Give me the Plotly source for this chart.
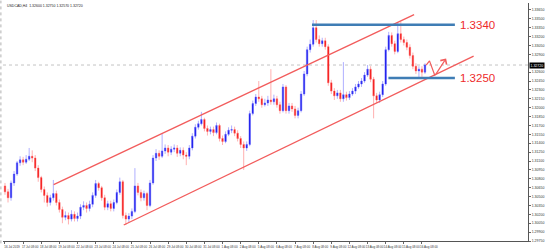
import plotly.graph_objects as go

# ---------------- data (USDCAD, H4) ----------------
bar_index = list(range(140))

open_ = [
    1.3068, 1.3058, 1.3048, 1.3073, 1.3088, 1.3107, 1.3112, 1.3108, 1.3113, 1.3118,
    1.3115, 1.3098, 1.3082, 1.3062, 1.3052, 1.3040, 1.3048, 1.3055, 1.3040, 1.3028,
    1.3015, 1.3018, 1.3012, 1.3020, 1.3013, 1.3017, 1.3032, 1.3035, 1.3030, 1.3037,
    1.3052, 1.3072, 1.3065, 1.3048, 1.3032, 1.3038, 1.3030, 1.3040, 1.3057, 1.3075,
    1.3018, 1.3012, 1.3017, 1.3025, 1.3068, 1.3057, 1.3048, 1.3055, 1.3035, 1.3073,
    1.3115, 1.3123, 1.3118, 1.3127, 1.3132, 1.3125, 1.3130, 1.3132, 1.3123, 1.3128,
    1.3120, 1.3118, 1.3132, 1.3152, 1.3167, 1.3173, 1.3180, 1.3165, 1.3160, 1.3163,
    1.3158, 1.3170, 1.3148, 1.3143, 1.3155, 1.3162, 1.3163, 1.3157, 1.3148, 1.3138,
    1.3132, 1.3138, 1.3190, 1.3207, 1.3218, 1.3215, 1.3205, 1.3208, 1.3213, 1.3210,
    1.3215, 1.3205, 1.3195, 1.3235, 1.3195, 1.3203, 1.3198, 1.3187, 1.3195, 1.3223,
    1.3257, 1.3298, 1.3307, 1.3335, 1.3315, 1.3308, 1.3313, 1.3303, 1.3242, 1.3228,
    1.3220, 1.3225, 1.3215, 1.3222, 1.3217, 1.3223, 1.3228, 1.3235, 1.3240, 1.3245,
    1.3255, 1.3265, 1.3248, 1.3220, 1.3213, 1.3222, 1.3240, 1.3298, 1.3322, 1.3308,
    1.3295, 1.3325, 1.3315, 1.3310, 1.3302, 1.3288, 1.3270, 1.3262, 1.3265, 1.3260,
]
high_ = [
    1.3073, 1.3063, 1.3077, 1.3093, 1.3110, 1.3118, 1.3117, 1.3120, 1.3132, 1.3128,
    1.3120, 1.3103, 1.3085, 1.3067, 1.3057, 1.3053, 1.3078, 1.3060, 1.3045, 1.3033,
    1.3025, 1.3023, 1.3027, 1.3025, 1.3023, 1.3037, 1.3042, 1.3040, 1.3043, 1.3057,
    1.3078, 1.3075, 1.3068, 1.3053, 1.3043, 1.3043, 1.3045, 1.3062, 1.3082, 1.3078,
    1.3023, 1.3022, 1.3030, 1.3098, 1.3073, 1.3062, 1.3060, 1.3058, 1.3078, 1.3120,
    1.3130, 1.3128, 1.3157, 1.3138, 1.3137, 1.3135, 1.3138, 1.3137, 1.3133, 1.3133,
    1.3125, 1.3137, 1.3157, 1.3172, 1.3178, 1.3193, 1.3183, 1.3170, 1.3168, 1.3168,
    1.3175, 1.3173, 1.3153, 1.3160, 1.3167, 1.3170, 1.3168, 1.3162, 1.3152, 1.3143,
    1.3143, 1.3195, 1.3212, 1.3223, 1.3245, 1.3220, 1.3215, 1.3220, 1.3265, 1.3222,
    1.3220, 1.3210, 1.3240, 1.3238, 1.3208, 1.3208, 1.3203, 1.3200, 1.3228, 1.3262,
    1.3303, 1.3315, 1.3348, 1.3348, 1.3322, 1.3318, 1.3318, 1.3307, 1.3247, 1.3233,
    1.3230, 1.3230, 1.3277, 1.3227, 1.3228, 1.3233, 1.3240, 1.3245, 1.3250, 1.3260,
    1.3272, 1.3270, 1.3252, 1.3225, 1.3227, 1.3245, 1.3303, 1.3328, 1.3327, 1.3313,
    1.3343, 1.3345, 1.3320, 1.3315, 1.3307, 1.3293, 1.3275, 1.3270, 1.3270, 1.3275,
]
low_ = [
    1.3053, 1.3040, 1.3043, 1.3068, 1.3085, 1.3102, 1.3103, 1.3105, 1.3110, 1.3108,
    1.3093, 1.3075, 1.3057, 1.3040, 1.3033, 1.3035, 1.3043, 1.3035, 1.3023, 1.3005,
    1.3010, 1.3003, 1.3008, 1.3008, 1.3008, 1.3012, 1.3027, 1.3023, 1.3025, 1.3032,
    1.3048, 1.3060, 1.3043, 1.3027, 1.3027, 1.3025, 1.3025, 1.3037, 1.3053, 1.3013,
    1.3002, 1.3007, 1.3012, 1.3022, 1.3052, 1.3042, 1.3043, 1.3027, 1.3032, 1.3070,
    1.3110, 1.3112, 1.3115, 1.3122, 1.3118, 1.3120, 1.3125, 1.3117, 1.3118, 1.3113,
    1.3103, 1.3113, 1.3128, 1.3148, 1.3163, 1.3170, 1.3160, 1.3153, 1.3155, 1.3152,
    1.3155, 1.3143, 1.3137, 1.3140, 1.3152, 1.3157, 1.3152, 1.3143, 1.3132, 1.3095,
    1.3127, 1.3135, 1.3187, 1.3203, 1.3210, 1.3200, 1.3202, 1.3203, 1.3205, 1.3205,
    1.3200, 1.3190, 1.3192, 1.3190, 1.3190, 1.3193, 1.3182, 1.3182, 1.3192, 1.3220,
    1.3253, 1.3293, 1.3303, 1.3310, 1.3303, 1.3303, 1.3298, 1.3237, 1.3223, 1.3213,
    1.3215, 1.3210, 1.3210, 1.3212, 1.3213, 1.3220, 1.3223, 1.3232, 1.3235, 1.3242,
    1.3252, 1.3243, 1.3182, 1.3208, 1.3208, 1.3218, 1.3237, 1.3295, 1.3303, 1.3290,
    1.3292, 1.3310, 1.3305, 1.3297, 1.3283, 1.3265, 1.3257, 1.3250, 1.3252, 1.3257,
]
close_ = [
    1.3058, 1.3048, 1.3073, 1.3088, 1.3107, 1.3112, 1.3108, 1.3113, 1.3118, 1.3115,
    1.3098, 1.3082, 1.3062, 1.3052, 1.3040, 1.3048, 1.3055, 1.3040, 1.3028, 1.3015,
    1.3018, 1.3012, 1.3020, 1.3013, 1.3017, 1.3032, 1.3035, 1.3030, 1.3037, 1.3052,
    1.3072, 1.3065, 1.3048, 1.3032, 1.3038, 1.3030, 1.3040, 1.3057, 1.3075, 1.3018,
    1.3012, 1.3017, 1.3025, 1.3068, 1.3057, 1.3048, 1.3055, 1.3035, 1.3073, 1.3115,
    1.3123, 1.3118, 1.3127, 1.3132, 1.3125, 1.3130, 1.3132, 1.3123, 1.3128, 1.3120,
    1.3118, 1.3132, 1.3152, 1.3167, 1.3173, 1.3180, 1.3165, 1.3160, 1.3163, 1.3158,
    1.3170, 1.3148, 1.3143, 1.3155, 1.3162, 1.3163, 1.3157, 1.3148, 1.3138, 1.3132,
    1.3138, 1.3190, 1.3207, 1.3218, 1.3215, 1.3205, 1.3208, 1.3213, 1.3210, 1.3215,
    1.3205, 1.3195, 1.3235, 1.3195, 1.3203, 1.3198, 1.3187, 1.3195, 1.3223, 1.3257,
    1.3298, 1.3307, 1.3335, 1.3315, 1.3308, 1.3313, 1.3303, 1.3242, 1.3228, 1.3220,
    1.3225, 1.3215, 1.3222, 1.3217, 1.3223, 1.3228, 1.3235, 1.3240, 1.3245, 1.3255,
    1.3265, 1.3248, 1.3220, 1.3213, 1.3222, 1.3240, 1.3298, 1.3322, 1.3308, 1.3295,
    1.3325, 1.3315, 1.3310, 1.3302, 1.3288, 1.3270, 1.3262, 1.3265, 1.3260, 1.3272,
]

x_label_index = [0, 6, 12, 18, 24, 30, 36, 42, 48, 54, 60, 66, 72, 78, 84, 90,
                 96, 102, 108, 114, 120, 126, 132, 138]
x_labels = ["16 Jul 2019", "17 Jul 08:00", "18 Jul 08:00", "19 Jul 08:00",
            "22 Jul 08:00", "23 Jul 08:00", "24 Jul 08:00", "25 Jul 08:00",
            "26 Jul 08:00", "29 Jul 08:00", "30 Jul 08:00", "31 Jul 08:00",
            "1 Aug 08:00", "2 Aug 08:00", "5 Aug 08:00", "6 Aug 08:00",
            "7 Aug 08:00", "8 Aug 08:00", "9 Aug 08:00", "12 Aug 08:00",
            "13 Aug 08:00", "14 Aug 08:00", "15 Aug 08:00", "16 Aug 08:00"]

# the 1.32750 scale label is hidden behind the bid-price box in the reference
y_tick_labels = ["1.29750", "1.29900", "1.30050", "1.30200", "1.30350", "1.30500",
                 "1.30650", "1.30800", "1.30950", "1.31100", "1.31250", "1.31400",
                 "1.31550", "1.31700", "1.31850", "1.32000", "1.32150", "1.32300",
                 "1.32450", "1.32600", "1.32900", "1.33050", "1.33200",
                 "1.33350", "1.33500", "1.33650"]

# drawn analysis objects (bar index, price)
upper_channel_x = [16.1, 135.4]
upper_channel_y = [1.3070, 1.3357]
lower_channel_x = [39.3, 155.1]
lower_channel_y = [1.3002, 1.3287]
resistance_x = [101.6, 148.9]
resistance_level = 1.3340
support_x = [126.9, 148.9]
support_level = 1.3250
zigzag_x = [139.4, 140.5, 142.3]
zigzag_y = [1.3272, 1.3279, 1.3254]
arrow_tip = (146.0, 1.3283)

FONT = "Liberation Sans"
RED = "#ee2b2b"
LINE_RED = "#f25c5c"
BLUE_LVL = "#3f7db5"

fig = go.Figure()

fig.add_trace(go.Candlestick(
    x=bar_index, open=open_, high=high_, low=low_, close=close_,
    increasing=dict(line=dict(color="rgba(80,80,255,0.45)", width=1), fillcolor="#1a1ae8"),
    decreasing=dict(line=dict(color="rgba(255,80,80,0.45)", width=1), fillcolor="#f21a1a"),
    whiskerwidth=0, showlegend=False, hoverinfo="skip",
))

# channel lines
for xs, ys in [(upper_channel_x, upper_channel_y), (lower_channel_x, lower_channel_y)]:
    fig.add_trace(go.Scatter(x=xs, y=ys, mode="lines",
                             line=dict(color=LINE_RED, width=1.3),
                             showlegend=False, hoverinfo="skip"))

# horizontal levels
fig.add_trace(go.Scatter(x=resistance_x, y=[resistance_level] * 2, mode="lines",
                         line=dict(color=BLUE_LVL, width=2.6), showlegend=False, hoverinfo="skip"))
fig.add_trace(go.Scatter(x=support_x, y=[support_level] * 2, mode="lines",
                         line=dict(color=BLUE_LVL, width=2.6), showlegend=False, hoverinfo="skip"))

# zigzag projection
fig.add_trace(go.Scatter(x=zigzag_x, y=zigzag_y, mode="lines",
                         line=dict(color=LINE_RED, width=1.2), showlegend=False, hoverinfo="skip"))
fig.add_annotation(x=arrow_tip[0], y=arrow_tip[1], ax=zigzag_x[-1], ay=zigzag_y[-1],
                   xref="x", yref="y", axref="x", ayref="y", text="", showarrow=True,
                   arrowhead=4, arrowsize=1.2, arrowwidth=1.2, arrowcolor=LINE_RED)

# level labels
for lvl, txt in [(resistance_level, "1.3340"), (support_level, "1.3250")]:
    fig.add_annotation(x=149.8, y=lvl, xref="x", yref="y", text=txt, showarrow=False,
                       xanchor="left", yanchor="middle",
                       font=dict(family=FONT, size=11.5, color=RED))

last_price = close_[-1]
# bid line
fig.add_shape(type="line", xref="paper", yref="y", x0=0, x1=1, y0=last_price, y1=last_price,
              line=dict(color="#c4c4c4", width=1, dash="dot"), layer="below")
# left border
fig.add_shape(type="line", xref="paper", yref="paper", x0=-0.004, x1=-0.004, y0=-0.01, y1=1.01,
              line=dict(color="#b0b0b0", width=1, dash="dot"))

fig.add_annotation(x=1, y=last_price, xref="paper", yref="y", text=f"{last_price:.5f}",
                   showarrow=False, xanchor="left", yanchor="middle", xshift=1,
                   bgcolor="#000000", borderpad=0.5,
                   font=dict(family=FONT, size=3.5, color="#ffffff"))

fig.add_annotation(x=0.004, y=1.006, xref="paper", yref="paper",
                   text=f"USDCAD,H4  {open_[-1]:.5f} {high_[-1]:.5f} {low_[-1]:.5f} {close_[-1]:.5f}",
                   showarrow=False, xanchor="left", yanchor="top",
                   font=dict(family=FONT, size=3.5, color="#222222"))

fig.update_layout(
    width=547, height=252,
    margin=dict(l=3, r=14, t=3, b=8),
    paper_bgcolor="white", plot_bgcolor="white",
    showlegend=False,
    xaxis=dict(range=[-0.66, 173.1], rangeslider=dict(visible=False),
               tickvals=x_label_index, ticktext=x_labels, tickangle=0,
               tickfont=dict(family=FONT, size=3, color="#333333"),
               ticks="outside", ticklen=2, tickcolor="#666666",
               ticklabelshift=7, ticklabelstandoff=0,
               showline=True, linecolor="#555555", linewidth=1,
               showgrid=False, zeroline=False, fixedrange=True),
    yaxis=dict(side="right", range=[1.2975, 1.33767],
               tickvals=[float(t) for t in y_tick_labels], ticktext=y_tick_labels,
               tickfont=dict(family=FONT, size=3.5, color="#333333"),
               ticks="outside", ticklen=2, tickcolor="#666666", ticklabelstandoff=0,
               showline=True, linecolor="#555555", linewidth=1,
               showgrid=False, zeroline=False, fixedrange=True),
)

fig.write_html("out.html")
